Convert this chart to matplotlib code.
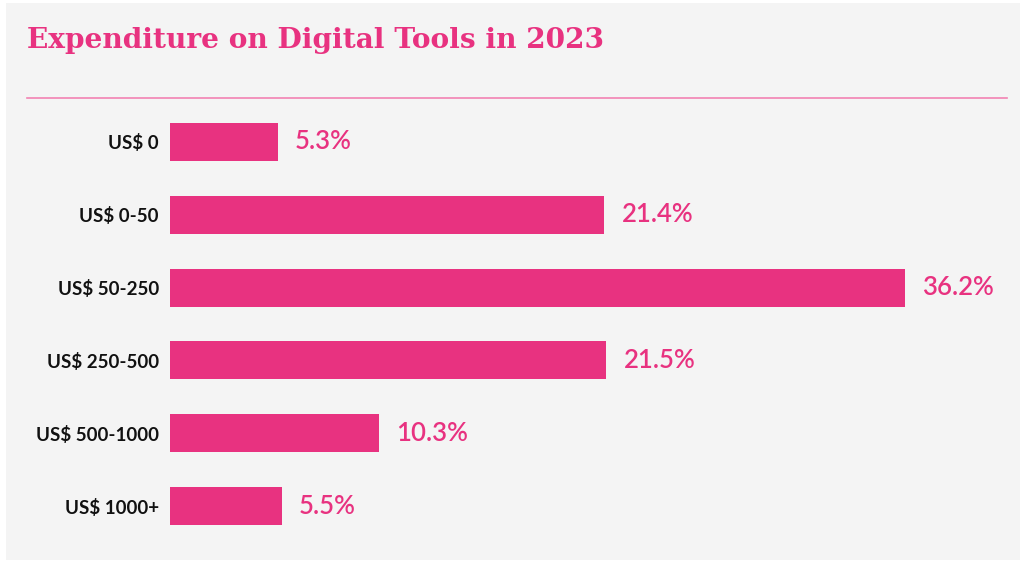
import matplotlib
matplotlib.use("Agg")
import matplotlib.pyplot as plt
from matplotlib.patches import Rectangle
from matplotlib.lines import Line2D

# ---- data ----
categories = ["US$ 0", "US$ 0-50", "US$ 50-250", "US$ 250-500", "US$ 500-1000", "US$ 1000+"]
shares = [5.3, 21.4, 36.2, 21.5, 10.3, 5.5]
value_labels = ["5.3%", "21.4%", "36.2%", "21.5%", "10.3%", "5.5%"]

PINK = "#E83280"
W, H = 1027, 563

fig = plt.figure(figsize=(W / 100, H / 100), dpi=100, facecolor="white")

# grey card behind everything
fig.patches.append(Rectangle((6 / W, 3 / H), (1020 - 6) / W, (560 - 3) / H,
                             transform=fig.transFigure, facecolor="#F4F4F4",
                             edgecolor="none", zorder=-5))

fig.text(27 / W, 1 - 40 / H, "Expenditure on Digital Tools in 2023",
         color=PINK, fontsize=20.2, fontweight="bold", family="DejaVu Serif",
         va="center", ha="left")
fig.lines.append(Line2D([27 / W, 1007 / W], [1 - 98 / H, 1 - 98 / H],
                        transform=fig.transFigure, color="#F283B3", lw=1.2))

ax = fig.add_axes([170 / W, 20.5 / H, (1007 - 170) / W, (457.5 - 20.5) / H])
ax.set_facecolor("none")
ax.set_zorder(2)
px_per_pct = 20.3
ax.set_xlim(0, (1007 - 170) / px_per_pct)
ax.set_ylim(len(categories) - 0.5, -0.5)

ypos = range(len(categories))
ax.barh(ypos, shares, height=0.52, color=PINK)

for y, v, lab in zip(ypos, shares, value_labels):
    ax.text(v + 0.85, y, lab, color=PINK, fontsize=18.5, fontweight="semibold",
            va="center", ha="left", family="Lato")

ax.set_yticks(list(ypos))
ax.set_yticklabels(categories, fontsize=13.5, fontweight="bold", family="Lato",
                   color="#111111")
ax.tick_params(axis="y", length=0, pad=8)
ax.set_xticks([])
for s in ax.spines.values():
    s.set_visible(False)

fig.savefig("out.png", dpi=100, facecolor="white")
